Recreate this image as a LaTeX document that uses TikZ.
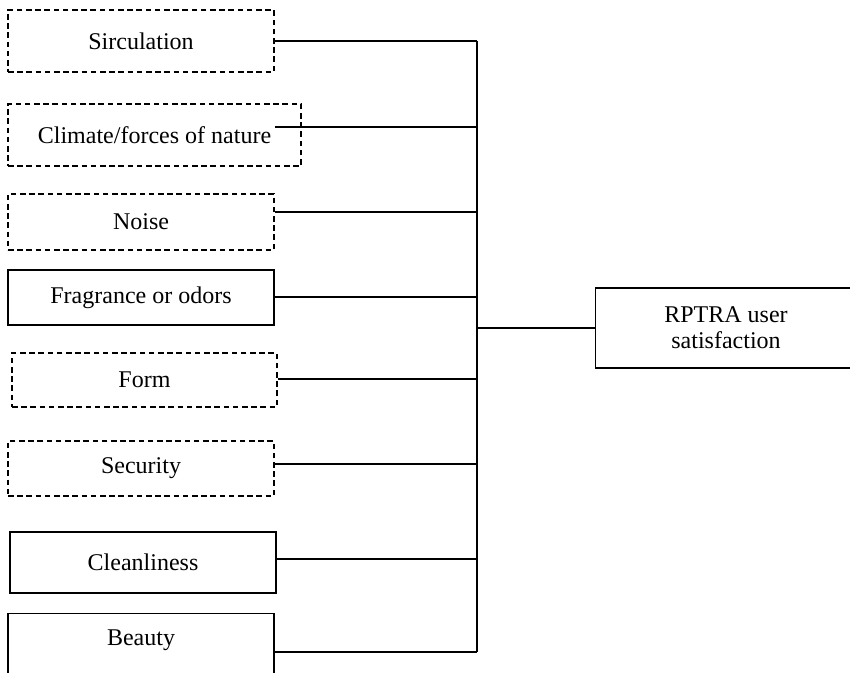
\documentclass[tikz,border=0pt]{standalone}
\usepackage{fontspec}
\setmainfont{Liberation Serif}

\begin{document}
\begin{tikzpicture}[x=0.5pt, y=-0.5pt,
    factor/.style={draw, line width=0.6pt, font=\fontsize{12}{14}\selectfont, minimum width=133pt, inner sep=0pt},
    dashbox/.style={factor, dash pattern=on 2.8pt off 1.8pt},
    link/.style={line width=1pt}]
\useasboundingbox (0,0) rectangle (850,673);
\clip (0,0) rectangle (850,673);

\node[dashbox, minimum height=31pt] (sirc) at (141,41) {Sirculation};
\node[dashbox, minimum height=31pt, minimum width=146.5pt] (climate) at (154.5,135) {Climate/forces of nature};
\node[dashbox, minimum height=28pt] (noise) at (141,222) {Noise};
\node[factor, minimum height=27.5pt] (fragrance) at (141,297.5) {Fragrance or odors};
\node[dashbox, minimum height=27pt, minimum width=132.5pt] (form) at (144.5,380) {Form};
\node[dashbox, minimum height=27.5pt] (security) at (141,468.5) {Security};
\node[factor, minimum height=30.5pt] (clean) at (143,562.5) {Cleanliness};
\node[factor, anchor=north, inner ysep=6pt, text height=10pt, text depth=30pt] (beauty) at (141,613) {Beauty};

\node[factor, minimum height=40pt, minimum width=160pt, anchor=west] (sat) at (595,328) {};
\node[align=center, font=\fontsize{12}{13}\selectfont] (satlabel) at ([xshift=65.5pt]sat.west) {RPTRA user\\satisfaction};

% bus line
\coordinate (bus) at (477,0);
\draw[link] (bus |- 0,41) -- (bus |- 0,652);

\foreach \n/\y in {sirc/41, noise/212, fragrance/297, form/379, security/464, clean/559, beauty/652}
  \draw[link] (\n.east |- 0,\y) -- (bus |- 0,\y);
\draw[link] (sirc.east |- 0,127) -- (bus |- 0,127);

\draw[link] (bus |- sat.west) -- (sat.west);

\end{tikzpicture}
\end{document}
